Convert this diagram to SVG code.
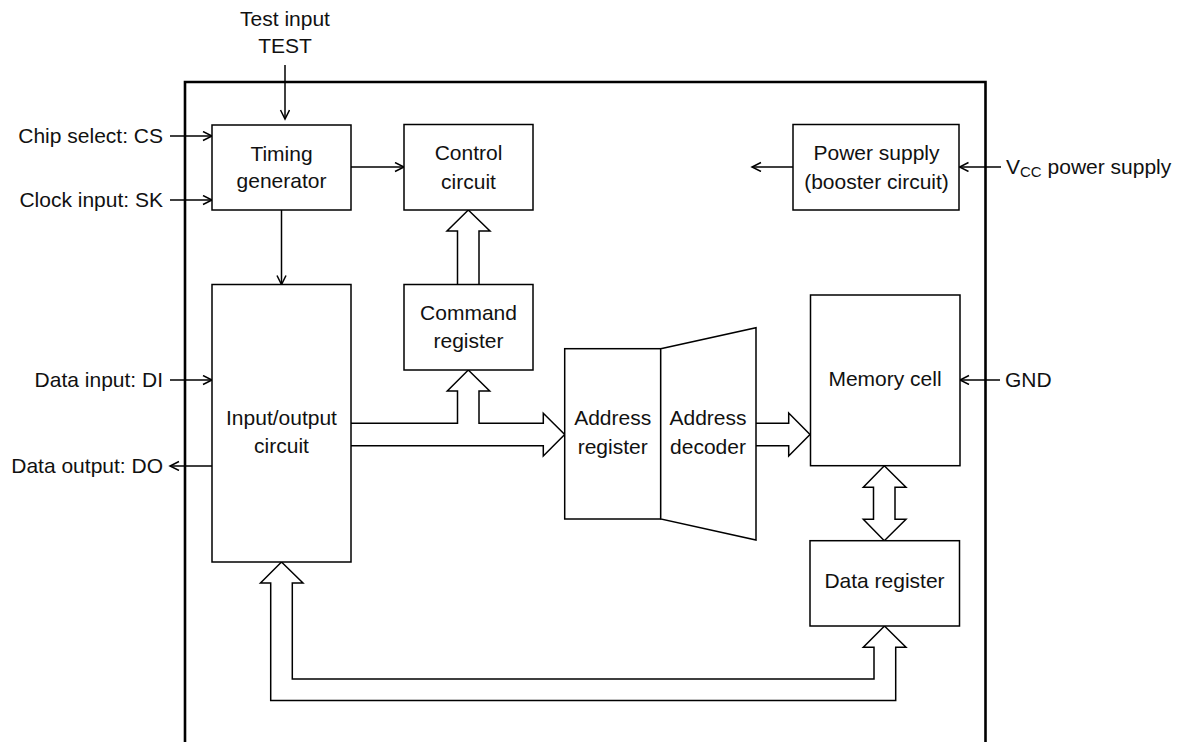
<svg xmlns="http://www.w3.org/2000/svg" width="1189" height="742" viewBox="0 0 1189 742">
<defs>
<style>
.box{fill:#fff;stroke:#000;stroke-width:1.5}
.bus{fill:#fff;stroke:#000;stroke-width:1.5;stroke-linejoin:miter}
.ln{fill:none;stroke:#000;stroke-width:1.5}
.t{font-family:"Liberation Sans",Arial,sans-serif;font-size:21px;fill:#111}
.c{text-anchor:middle}
.r{text-anchor:end}
</style>
<marker id="ah" markerUnits="userSpaceOnUse" markerWidth="12" markerHeight="12" refX="10" refY="5" orient="auto">
<path d="M1,0.5 L10,5 L1,9.5" fill="none" stroke="#000" stroke-width="1.5"/>
</marker>
</defs>
<rect width="1189" height="742" fill="#fff"/>
<path d="M185,745 V82 H985.5 V745" fill="none" stroke="#000" stroke-width="2.6"/>

<g id="connectors">
<line class="ln" x1="285" y1="65" x2="285" y2="119" marker-end="url(#ah)"/>
<line class="ln" x1="170" y1="136" x2="212" y2="136" marker-end="url(#ah)"/>
<line class="ln" x1="170" y1="200" x2="212" y2="200" marker-end="url(#ah)"/>
<line class="ln" x1="351" y1="167" x2="404" y2="167" marker-end="url(#ah)"/>
<line class="ln" x1="281.5" y1="210" x2="281.5" y2="284.5" marker-end="url(#ah)"/>
<line class="ln" x1="793" y1="167" x2="752" y2="167" marker-end="url(#ah)"/>
<line class="ln" x1="1001" y1="167" x2="959.5" y2="167" marker-end="url(#ah)"/>
<line class="ln" x1="170" y1="380" x2="212" y2="380" marker-end="url(#ah)"/>
<line class="ln" x1="212" y1="466" x2="170" y2="466" marker-end="url(#ah)"/>
<line class="ln" x1="1000" y1="380" x2="960" y2="380" marker-end="url(#ah)"/>
<path class="bus" d="M457.5,284.5 V231 H447 L468.3,210 L490,231 H479 V284.5"/>
<path class="bus" d="M351,423.3 H457.5 V391 H447.3 L468.3,370 L489.7,391 H479 V423.3 H543.3 V413.3 L564.7,434.5 L543.3,456 V445.7 H351"/>
<path class="bus" d="M756,423.3 H788.7 V413 L810,434.5 L788.7,456 V445.7 H756"/>
<path class="bus" d="M873.5,487.3 H863.3 L884.3,465.7 L906,487.3 H895 V519.3 H906 L884.3,540.7 L863.3,519.3 H873.5 Z"/>
<path class="bus" d="M270.7,583 H260.5 L281.5,562 L303,583 H292.3 V679 H874 V647.3 H863.3 L884.5,626 L906,647.3 H895.7 V700.5 H270.7 Z"/>
</g>

<g id="labels">
<text class="t c" x="285" y="26">Test input</text>
<text class="t c" x="285" y="53">TEST</text>
<text class="t r" x="163" y="143">Chip select: CS</text>
<text class="t r" x="163" y="207">Clock input: SK</text>
<text class="t r" x="163" y="387">Data input: DI</text>
<text class="t r" x="163" y="473">Data output: DO</text>
<text class="t" x="1006" y="174">V<tspan font-size="15" dy="3">CC</tspan><tspan dy="-3"> power supply</tspan></text>
<text class="t" x="1005" y="387">GND</text>
</g>

<g id="timing">
<rect class="box" x="212" y="125" width="139" height="85"/>
<text class="t c" x="281.5" y="161">Timing</text>
<text class="t c" x="281.5" y="188">generator</text>
</g>
<g id="control">
<rect class="box" x="404" y="124.5" width="129" height="85.5"/>
<text class="t c" x="468.5" y="160">Control</text>
<text class="t c" x="468.5" y="189">circuit</text>
</g>
<g id="power">
<rect class="box" x="793" y="124.5" width="166" height="85.5"/>
<text class="t c" x="876.5" y="160">Power supply</text>
<text class="t c" x="876.5" y="189">(booster circuit)</text>
</g>
<g id="command">
<rect class="box" x="404" y="284.5" width="129" height="85.5"/>
<text class="t c" x="468.5" y="320">Command</text>
<text class="t c" x="468.5" y="348">register</text>
</g>
<g id="io">
<rect class="box" x="212" y="284.5" width="139" height="277.5"/>
<text class="t c" x="281.5" y="425">Input/output</text>
<text class="t c" x="281.5" y="453">circuit</text>
</g>
<g id="addr-reg">
<rect class="box" x="564.7" y="348.7" width="96" height="170.3"/>
<text class="t c" x="612.7" y="425">Address</text>
<text class="t c" x="612.7" y="454">register</text>
</g>
<g id="addr-dec">
<path class="box" d="M660.7,348.7 L756,327.7 L756,540 L660.7,519 Z"/>
<text class="t c" x="708" y="425">Address</text>
<text class="t c" x="708" y="454">decoder</text>
</g>
<g id="memory">
<rect class="box" x="810.5" y="295" width="149.5" height="170.7"/>
<text class="t c" x="885" y="386">Memory cell</text>
</g>
<g id="data-reg">
<rect class="box" x="810" y="540.7" width="149.5" height="85.3"/>
<text class="t c" x="884.5" y="588">Data register</text>
</g>
</svg>
